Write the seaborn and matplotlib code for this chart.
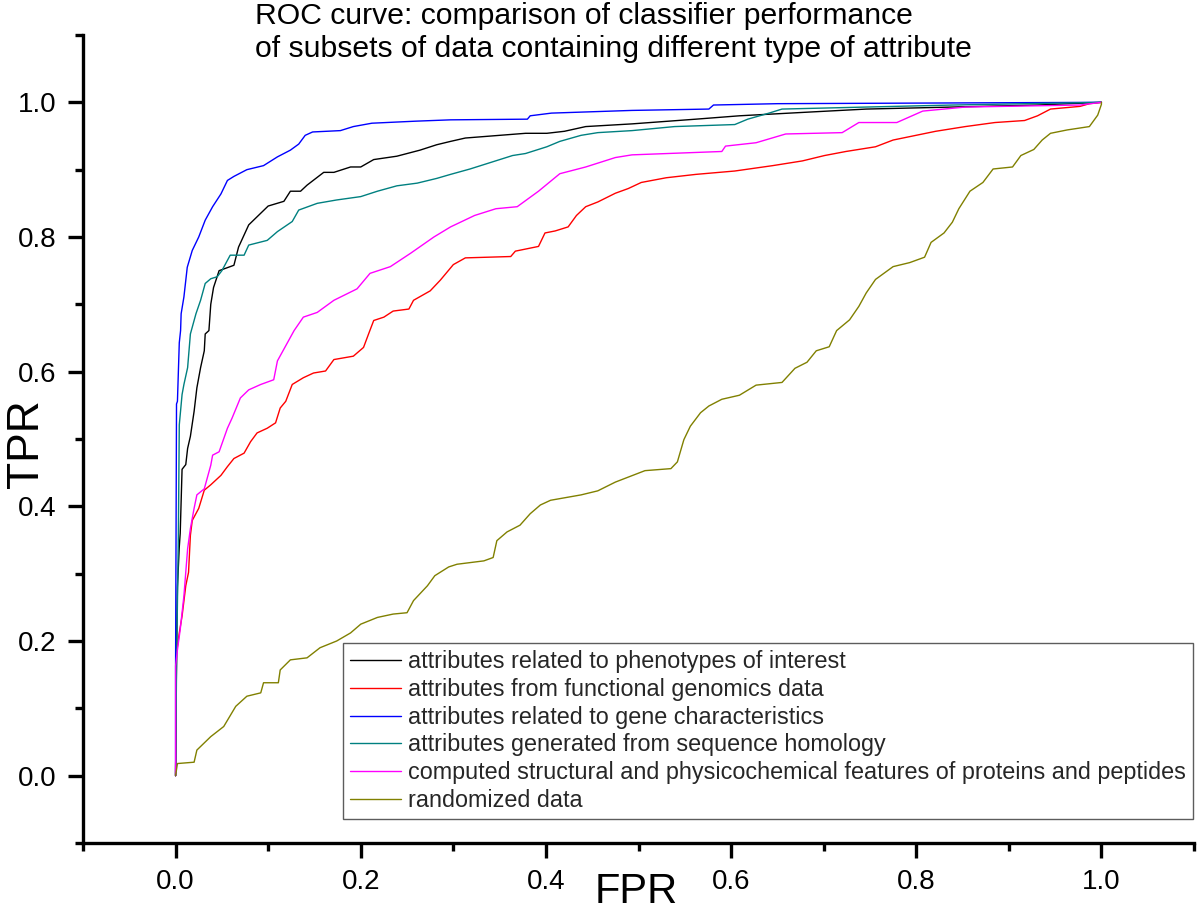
import numpy as np
import pandas as pd
import matplotlib
matplotlib.use("Agg")
import matplotlib.pyplot as plt
import seaborn as sns
from matplotlib.ticker import FixedLocator

# ---------------- data ----------------
labels = [
    "attributes related to phenotypes of interest",
    "attributes from functional genomics data",
    "attributes related to gene characteristics",
    "attributes generated from sequence homology",
    "computed structural and physicochemical features of proteins and peptides",
    "randomized data",
]

black_fpr = [0.0, 0.001, 0.002, 0.004, 0.005, 0.007, 0.011, 0.013, 0.016, 0.02, 0.023, 0.027, 0.031, 0.032, 0.036,
             0.038, 0.041, 0.047, 0.063, 0.068, 0.079, 0.088, 0.10, 0.117, 0.124, 0.135, 0.142, 0.16, 0.171, 0.189,
             0.20, 0.214, 0.239, 0.264, 0.282, 0.297, 0.313, 0.378, 0.401, 0.42, 0.443, 0.493, 0.562, 0.609, 0.677,
             0.746, 0.839, 0.931, 1.0]
black_tpr = [0.0, 0.18, 0.28, 0.34, 0.36, 0.455, 0.462, 0.486, 0.504, 0.541, 0.576, 0.606, 0.631, 0.656, 0.661,
             0.70, 0.725, 0.75, 0.758, 0.785, 0.818, 0.83, 0.846, 0.853, 0.868, 0.868, 0.877, 0.896, 0.896, 0.904,
             0.904, 0.915, 0.92, 0.929, 0.937, 0.942, 0.947, 0.954, 0.954, 0.957, 0.964, 0.968, 0.975, 0.98, 0.985,
             0.99, 0.993, 0.996, 1.0]

red_fpr = [0.0, 0.001, 0.004, 0.007, 0.011, 0.014, 0.016, 0.018, 0.025, 0.031, 0.038, 0.049, 0.056, 0.063, 0.074,
           0.081, 0.088, 0.099, 0.108, 0.113, 0.119, 0.126, 0.138, 0.149, 0.162, 0.171, 0.192, 0.203, 0.209, 0.214,
           0.225, 0.235, 0.252, 0.257, 0.275, 0.286, 0.30, 0.313, 0.362, 0.367, 0.392, 0.399, 0.41, 0.424, 0.433,
           0.443, 0.456, 0.475, 0.489, 0.503, 0.53, 0.562, 0.604, 0.645, 0.677, 0.701, 0.724, 0.756, 0.775, 0.821,
           0.853, 0.885, 0.917, 0.931, 0.945, 0.977, 0.987, 1.0]
red_tpr = [0.0, 0.182, 0.212, 0.237, 0.282, 0.302, 0.357, 0.379, 0.397, 0.424, 0.432, 0.446, 0.459, 0.471, 0.479,
           0.496, 0.509, 0.516, 0.524, 0.546, 0.556, 0.581, 0.591, 0.598, 0.601, 0.618, 0.623, 0.636, 0.658, 0.676,
           0.681, 0.69, 0.693, 0.706, 0.72, 0.736, 0.759, 0.769, 0.771, 0.779, 0.786, 0.806, 0.809, 0.815, 0.832,
           0.845, 0.852, 0.865, 0.872, 0.881, 0.888, 0.893, 0.898, 0.906, 0.913, 0.921, 0.927, 0.934, 0.944, 0.957,
           0.964, 0.97, 0.973, 0.98, 0.99, 0.994, 0.998, 1.0]

blue_fpr = [0.0, 0.0, 0.001, 0.002, 0.004, 0.0054, 0.006, 0.009, 0.0126, 0.018, 0.025, 0.032, 0.04, 0.049, 0.056,
            0.063, 0.077, 0.095, 0.11, 0.124, 0.133, 0.14, 0.148, 0.178, 0.192, 0.212, 0.259, 0.297, 0.38, 0.383,
            0.406, 0.493, 0.576, 0.581, 0.65, 1.0]
blue_tpr = [0.0, 0.163, 0.552, 0.556, 0.643, 0.661, 0.686, 0.711, 0.755, 0.78, 0.80, 0.825, 0.845, 0.864, 0.884,
            0.89, 0.90, 0.906, 0.919, 0.929, 0.938, 0.951, 0.956, 0.958, 0.964, 0.969, 0.972, 0.974, 0.975, 0.98,
            0.984, 0.988, 0.99, 0.996, 0.998, 1.0]

teal_fpr = [0.0, 0.001, 0.003, 0.004, 0.007, 0.009, 0.013, 0.016, 0.02, 0.022, 0.027, 0.032, 0.038, 0.045, 0.05,
            0.059, 0.074, 0.079, 0.099, 0.11, 0.126, 0.133, 0.153, 0.174, 0.20, 0.218, 0.239, 0.261, 0.282, 0.297,
            0.318, 0.364, 0.378, 0.401, 0.415, 0.438, 0.456, 0.493, 0.539, 0.604, 0.618, 0.641, 0.655, 0.746,
            0.839, 1.0]
teal_tpr = [0.0, 0.157, 0.357, 0.521, 0.566, 0.581, 0.606, 0.656, 0.676, 0.686, 0.706, 0.731, 0.738, 0.741, 0.75,
            0.773, 0.773, 0.788, 0.795, 0.808, 0.823, 0.84, 0.85, 0.855, 0.86, 0.868, 0.876, 0.88, 0.887, 0.893,
            0.901, 0.921, 0.924, 0.934, 0.942, 0.951, 0.955, 0.958, 0.964, 0.967, 0.975, 0.984, 0.99, 0.993,
            0.996, 1.0]

magenta_fpr = [0.0, 0.0, 0.002, 0.005, 0.009, 0.013, 0.016, 0.02, 0.023, 0.031, 0.038, 0.04, 0.047, 0.056, 0.061,
               0.07, 0.079, 0.092, 0.106, 0.11, 0.128, 0.138, 0.153, 0.171, 0.196, 0.21, 0.232, 0.254, 0.279, 0.297,
               0.323, 0.346, 0.369, 0.392, 0.415, 0.443, 0.475, 0.493, 0.59, 0.594, 0.627, 0.659, 0.72, 0.738,
               0.779, 0.807, 0.853, 0.977, 1.0]
magenta_tpr = [0.0, 0.163, 0.187, 0.217, 0.267, 0.337, 0.367, 0.397, 0.417, 0.426, 0.461, 0.476, 0.481, 0.516,
               0.531, 0.561, 0.573, 0.581, 0.588, 0.616, 0.661, 0.681, 0.688, 0.706, 0.723, 0.746, 0.756, 0.776,
               0.80, 0.815, 0.832, 0.842, 0.845, 0.868, 0.894, 0.904, 0.918, 0.922, 0.927, 0.935, 0.94, 0.953,
               0.955, 0.97, 0.97, 0.987, 0.993, 0.996, 1.0]

olive_fpr = [0.0, 0.002, 0.02, 0.023, 0.038, 0.052, 0.065, 0.077, 0.092, 0.095, 0.111, 0.113, 0.124, 0.142, 0.156,
             0.174, 0.189, 0.20, 0.218, 0.235, 0.25, 0.257, 0.272, 0.28, 0.295, 0.304, 0.333, 0.343, 0.347, 0.358,
             0.372, 0.383, 0.394, 0.405, 0.438, 0.456, 0.475, 0.507, 0.535, 0.542, 0.549, 0.556, 0.567, 0.576,
             0.59, 0.609, 0.627, 0.655, 0.669, 0.682, 0.692, 0.706, 0.714, 0.728, 0.738, 0.746, 0.756, 0.775,
             0.793, 0.809, 0.816, 0.83, 0.839, 0.846, 0.858, 0.872, 0.883, 0.904, 0.913, 0.927, 0.936, 0.945,
             0.963, 0.987, 0.996, 1.0, 1.0]
olive_tpr = [0.0, 0.018, 0.02, 0.038, 0.058, 0.073, 0.103, 0.118, 0.123, 0.138, 0.138, 0.157, 0.172, 0.175, 0.19,
             0.20, 0.212, 0.225, 0.235, 0.24, 0.242, 0.26, 0.282, 0.297, 0.31, 0.314, 0.319, 0.324, 0.349, 0.362,
             0.372, 0.389, 0.402, 0.409, 0.417, 0.423, 0.436, 0.453, 0.456, 0.466, 0.499, 0.519, 0.539, 0.549,
             0.559, 0.565, 0.58, 0.584, 0.605, 0.614, 0.631, 0.637, 0.661, 0.677, 0.697, 0.717, 0.737, 0.756,
             0.762, 0.77, 0.792, 0.806, 0.822, 0.842, 0.868, 0.881, 0.901, 0.904, 0.921, 0.93, 0.944, 0.954,
             0.959, 0.964, 0.981, 0.997, 1.0]

colors = ["#000000", "#ff0000", "#0000ff", "#008080", "#ff00ff", "#808000"]

series = [(black_fpr, black_tpr), (red_fpr, red_tpr), (blue_fpr, blue_tpr),
          (teal_fpr, teal_tpr), (magenta_fpr, magenta_tpr), (olive_fpr, olive_tpr)]

frames = []
for lab, (fx, ty) in zip(labels, series):
    frames.append(pd.DataFrame({"FPR": fx, "TPR": ty, "series": lab}))
df = pd.concat(frames, ignore_index=True)

# ---------------- style ----------------
sns.set_theme(style="ticks")
plt.rcParams["font.family"] = ["Liberation Sans", "DejaVu Sans"]

fig = plt.figure(figsize=(12, 9.1), dpi=100)
ax = fig.add_axes([83 / 1200, 1 - 843 / 910, 1111 / 1200, 808 / 910])

sns.lineplot(data=df, x="FPR", y="TPR", hue="series", hue_order=labels,
             palette=colors, estimator=None, sort=False,
             linewidth=1.0, ax=ax, legend=True)

ax.set_xlim(-0.1, 1.1)
ax.set_ylim(-0.1, 1.1)

for side in ["top", "right"]:
    ax.spines[side].set_visible(False)
for side in ["left", "bottom"]:
    ax.spines[side].set_linewidth(2.4)
    ax.spines[side].set_color("black")

major = [0.0, 0.2, 0.4, 0.6, 0.8, 1.0]
minor = [-0.1, 0.1, 0.3, 0.5, 0.7, 0.9, 1.1]
for axis in (ax.xaxis, ax.yaxis):
    axis.set_major_locator(FixedLocator(major))
    axis.set_minor_locator(FixedLocator(minor))
ax.set_xticklabels([f"{v:.1f}" for v in major])
ax.set_yticklabels([f"{v:.1f}" for v in major])
ax.tick_params(which="major", direction="out", length=11, width=2.4, color="black",
               labelsize=20, labelcolor="black")
ax.tick_params(axis="x", which="major", pad=8)
ax.tick_params(axis="y", which="major", pad=8)
ax.tick_params(which="minor", direction="out", length=6, width=2.4, color="black")

ax.set_xlabel("FPR", fontsize=30, color="black")
ax.set_ylabel("TPR", fontsize=32, color="black")
ax.xaxis.set_label_coords(0.498, -0.036)
ax.yaxis.set_label_coords(-0.032, 0.494)

fig.text(255 / 1200, 1 - 2 / 910,
         "ROC curve: comparison of classifier performance\n"
         "of subsets of data containing different type of attribute",
         ha="left", va="top", fontsize=21.7, color="black", linespacing=1.22)

leg = ax.legend(loc="lower left", bbox_to_anchor=(0.234, 0.03), borderaxespad=0,
                fontsize=16.8, frameon=True, fancybox=False, edgecolor="#333333",
                handlelength=2.2, handletextpad=0.3, labelspacing=0.2, borderpad=0.3)
leg.get_frame().set_linewidth(1.0)
for line in leg.get_lines():
    line.set_linewidth(1.0)

fig.savefig("out.png", dpi=100, facecolor="white")
